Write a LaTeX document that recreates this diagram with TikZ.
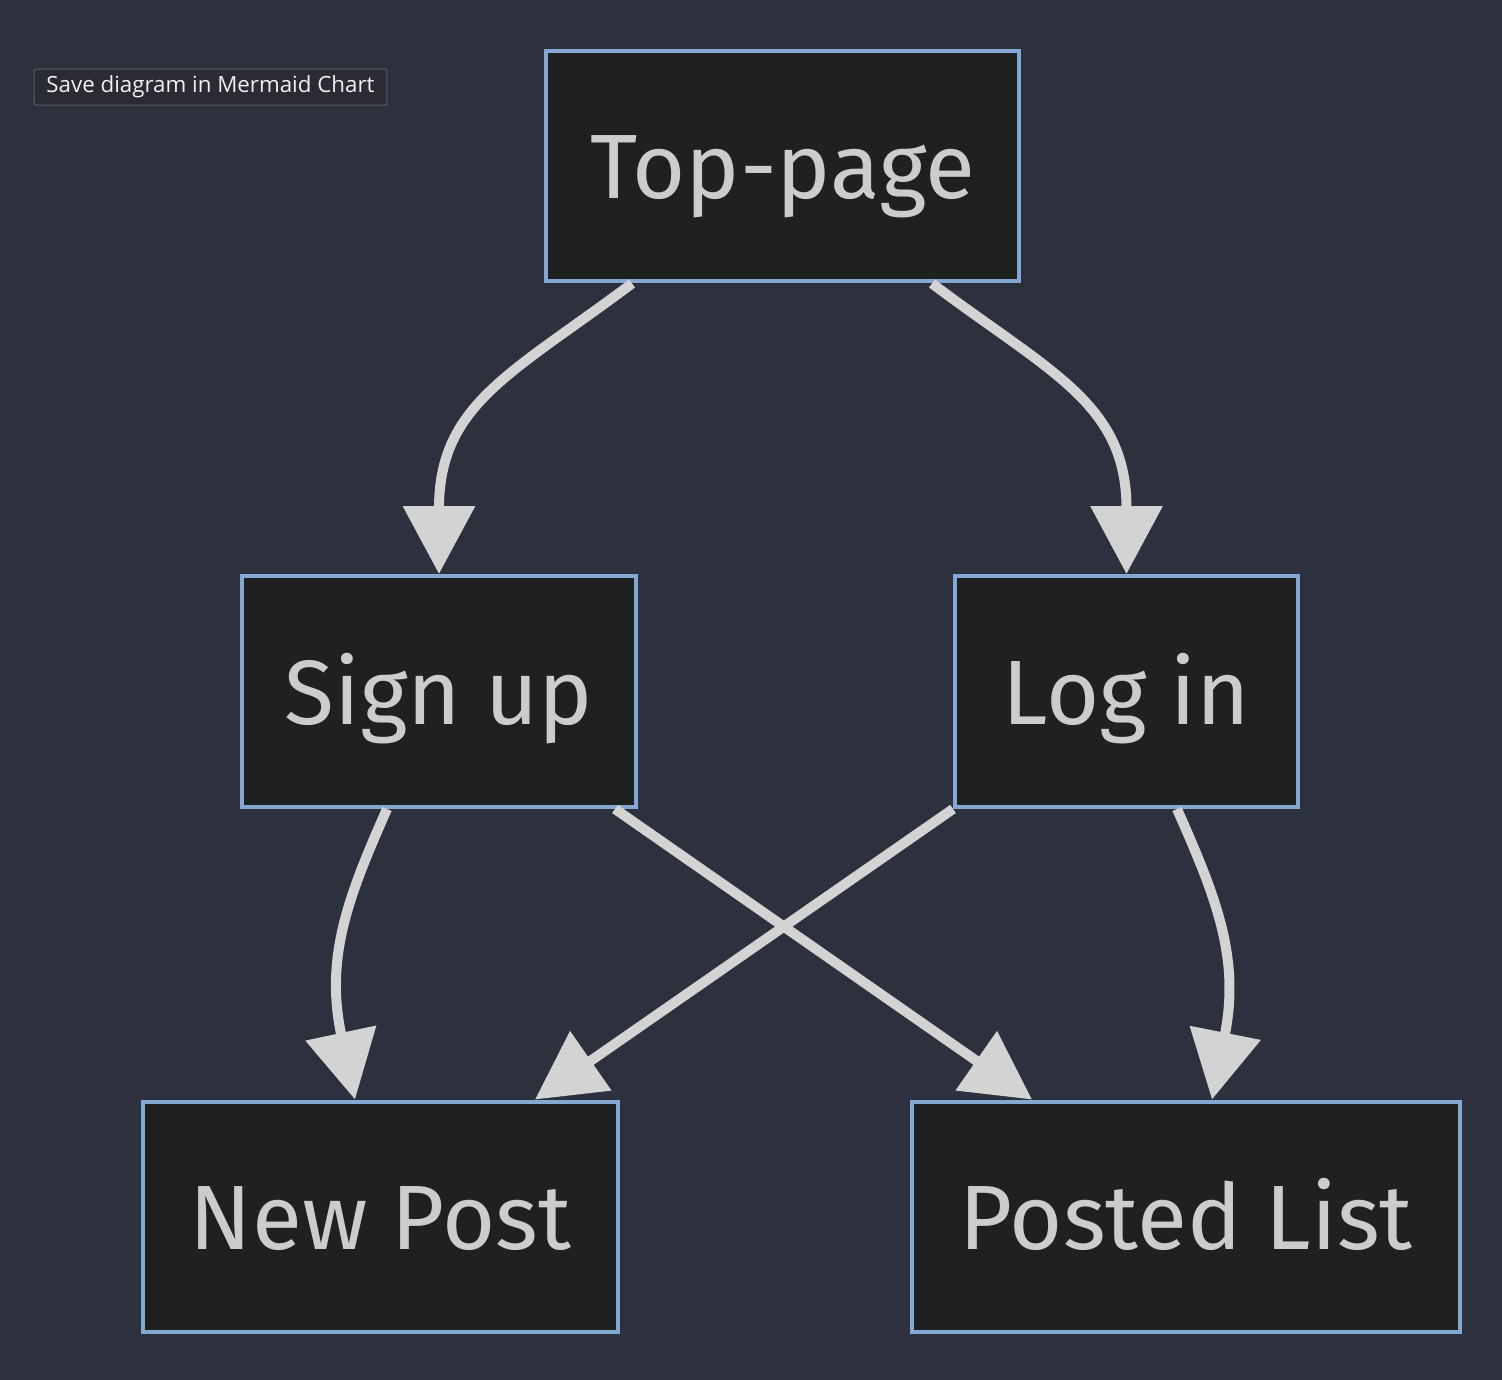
\documentclass[tikz,border=0pt]{standalone}
\usepackage{fontspec}
\setmainfont{Fira Sans}
\newfontfamily\btnfont{Open Sans}
\usepackage{tikz}
\usetikzlibrary{arrows.meta, positioning, calc}
\usepackage{xcolor}
\definecolor{bgdark}{HTML}{2D303D}
\definecolor{boxfill}{HTML}{1F2020}
\definecolor{boxline}{HTML}{85A8D3}
\definecolor{edgegray}{HTML}{D3D3D3}
\definecolor{labelgray}{HTML}{CCCCCC}
\definecolor{btnfill}{HTML}{2B2C33}
\definecolor{btnline}{HTML}{5A5C63}

\tikzset{
  page/.style={draw=boxline, fill=boxfill, line width=0.08cm, minimum height=4.62cm,
    inner sep=0pt, text height=1.3cm, text depth=0pt, text=labelgray,
    font=\fontsize{52}{56}\selectfont},
  edge/.style={draw=edgegray, line width=0.2cm,
    -{Triangle[length=1.36cm, width=1.4cm]}}
}

\begin{document}
\begin{tikzpicture}[x=0.02cm, y=-0.02cm]
  \fill[bgdark] (0,0) rectangle (1502,1380);
  \useasboundingbox (0,0) rectangle (1502,1380);

  \node[draw=btnline, fill=btnfill, line width=0.02cm, rounded corners=0.04cm,
    minimum width=7.06cm, minimum height=0.72cm, inner sep=0pt, text=white!94!black,
    font=\btnfont\fontsize{12.7}{14}\selectfont]
    (save) at (210.5,87) {Save diagram in Mermaid Chart};

  \node[page, minimum width=9.46cm] (top) at (782.5,166) {Top-page};
  \node[page, minimum width=7.88cm] (signup) at (439,691.5) {Sign up};
  \node[page, minimum width=6.86cm] (login) at (1126.5,691.5) {Log in};
  \node[page, minimum width=9.5cm] (newpost) at (380.5,1217) {New Post};
  \node[page, minimum width=10.96cm] (postedlist) at (1186,1217) {Posted List};

  \draw[edge] ([xshift=-3.01cm]top.south) .. controls +(-120,90) and +(0,-170) .. (signup.north);
  \draw[edge] ([xshift=2.99cm]top.south) .. controls +(120,90) and +(0,-170) .. (login.north);
  \draw[edge] ([xshift=-1.04cm]signup.south) .. controls +(-40,90) and +(-30,-141) .. ([xshift=-0.51cm]newpost.north);
  \draw[edge] ([xshift=1.01cm]login.south) .. controls +(40,90) and +(28,-141) .. ([xshift=0.52cm]postedlist.north);
  \draw[edge] ([xshift=3.52cm]signup.south) -- ([xshift=-3.08cm]postedlist.north);
  \draw[edge] (login.south west) -- ([xshift=3.09cm]newpost.north);
\end{tikzpicture}
\end{document}
